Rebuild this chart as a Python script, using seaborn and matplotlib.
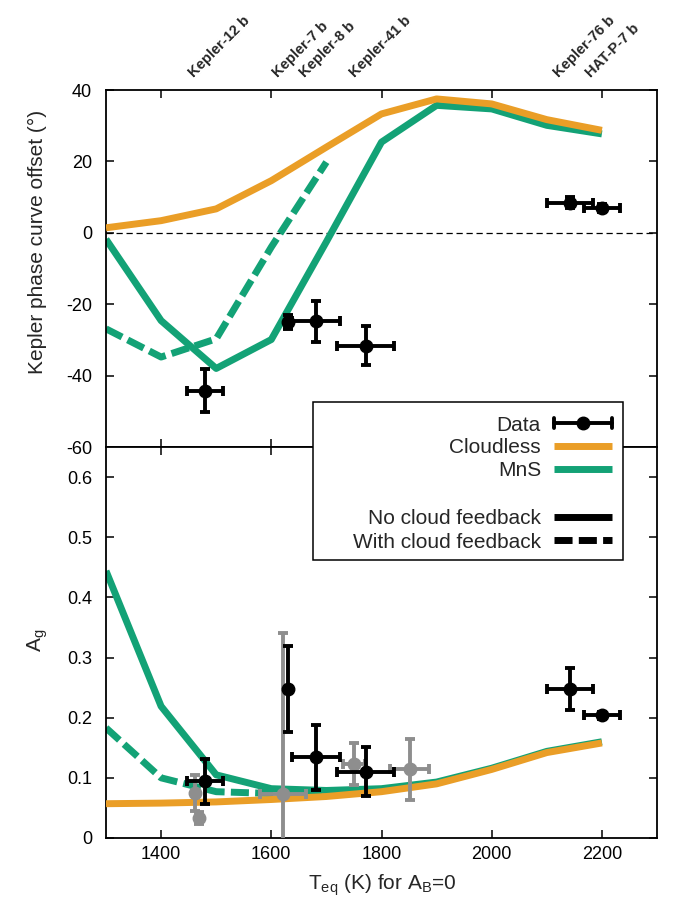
import numpy as np
import pandas as pd
import matplotlib
matplotlib.use("Agg")
import matplotlib.pyplot as plt
import seaborn as sns
from matplotlib.lines import Line2D
from matplotlib.patches import Rectangle

# ---------------- data ----------------
T_model = [1300, 1400, 1500, 1600, 1700, 1800, 1900, 2000, 2100, 2200]
offset_cloudless = [1.4, 3.4, 6.7, 14.6, 24.0, 33.3, 37.5, 36.1, 31.7, 28.7]
offset_mns = [-1.8, -24.6, -38.0, -29.9, -2.5, 25.4, 35.7, 34.7, 30.1, 27.7]
T_feedback = [1300, 1400, 1500, 1600, 1700]
offset_mns_feedback = [-26.9, -34.8, -29.7, -4.0, 19.8]

Ag_cloudless = [0.057, 0.058, 0.060, 0.064, 0.069, 0.077, 0.090, 0.114, 0.142, 0.158]
Ag_mns = [0.444, 0.219, 0.105, 0.082, 0.079, 0.082, 0.093, 0.116, 0.144, 0.160]
Ag_mns_feedback = [0.183, 0.100, 0.077, 0.074, 0.075]

planets = ["Kepler-12 b", "Kepler-7 b", "Kepler-8 b", "Kepler-41 b", "Kepler-76 b", "HAT-P-7 b"]
T_planet = [1480, 1631, 1681, 1771, 2142, 2200]
T_planet_err = [33, 5, 43, 52, 42, 32]
offset_obs = [-44.2, -25.0, -24.8, -31.6, 8.4, 7.0]
offset_obs_err = [6.0, 2.0, 5.8, 5.5, 1.5, 1.2]
Ag_obs = [0.094, 0.248, 0.134, 0.110, 0.247, 0.204]
Ag_obs_err = [0.038, 0.072, 0.054, 0.041, 0.035, 0.006]

T_grey = [1461, 1468, 1621, 1750, 1851]
T_grey_err = [0, 0, 42, 20, 35]
Ag_grey = [0.075, 0.033, 0.073, 0.123, 0.114]
Ag_grey_err = [0.030, 0.010, 0.267, 0.035, 0.050]

offset_yticks = [-60, -40, -20, 0, 20, 40]
Ag_yticks = [0, 0.1, 0.2, 0.3, 0.4, 0.5, 0.6]
Ag_yticklabels = ["0", "0.1", "0.2", "0.3", "0.4", "0.5", "0.6"]
T_ticks = [1400, 1600, 1800, 2000, 2200]

ORANGE = "#EA9E27"
GREEN = "#13A276"
GREY = "#8E8E8E"

# ---------------- style ----------------
sns.set_theme(style="ticks")
plt.rcParams["font.family"] = ["Liberation Sans", "DejaVu Sans"]
plt.rcParams["axes.unicode_minus"] = False
plt.rcParams["mathtext.fontset"] = "custom"
plt.rcParams["mathtext.rm"] = "Liberation Sans"
plt.rcParams["mathtext.it"] = "Liberation Sans:italic"

W_PX, H_PX = 673, 902
fig = plt.figure(figsize=(W_PX / 100, H_PX / 100), dpi=100)
L = 106 / W_PX
W = 551 / W_PX
ax1 = fig.add_axes([L, 1 - 447 / H_PX, W, 357 / H_PX])
ax2 = fig.add_axes([L, 1 - 838 / H_PX, W, 391 / H_PX])

DASH = (0, (2.6, 0.9))


def model(ax, x, y, color, dashed=False, z=2):
    kw = {"linestyle": DASH} if dashed else {}
    sns.lineplot(x=x, y=y, color=color, linewidth=5, ax=ax, zorder=z,
                 solid_capstyle="butt", dash_capstyle="butt", **kw)


def data(ax, x, y, xe, ye, color, z):
    ax.errorbar(x, y, xerr=xe, yerr=ye, fmt="o", color=color, ms=9,
                elinewidth=2.8, capsize=3.8, capthick=2.8, zorder=z)


# top panel
ax1.axhline(0, color="black", lw=0.9, linestyle=(0, (5, 3)), zorder=1)
model(ax1, T_model, offset_mns, GREEN, z=2)
model(ax1, T_feedback, offset_mns_feedback, GREEN, dashed=True, z=2.5)
model(ax1, T_model, offset_cloudless, ORANGE, z=3)
data(ax1, T_planet, offset_obs, T_planet_err, offset_obs_err, "black", 5)

# bottom panel
model(ax2, T_model, Ag_mns, GREEN, z=2)
model(ax2, T_feedback, Ag_mns_feedback, GREEN, dashed=True, z=2.5)
model(ax2, T_model, Ag_cloudless, ORANGE, z=3)
data(ax2, T_grey, Ag_grey, T_grey_err, Ag_grey_err, GREY, 4)
data(ax2, T_planet, Ag_obs, T_planet_err, Ag_obs_err, "black", 5)

for ax in (ax1, ax2):
    ax.set_xlim(1300, 2300)
    ax.set_xticks(T_ticks)
    ax.set_xlabel("")
    ax.set_ylabel("")
    ax.tick_params(direction="in", top=True, right=True, length=6, width=1.1,
                   labelsize=13, colors="black")
    ax.tick_params(axis="y", pad=10)
    ax.tick_params(axis="x", pad=6)
    for s in ax.spines.values():
        s.set_linewidth(1.3)
        s.set_color("black")
        s.set_visible(True)

ax1.set_ylim(-60, 40)
ax1.set_yticks(offset_yticks)
ax1.set_yticklabels([str(v) for v in offset_yticks])
ax1.tick_params(axis="x", labelbottom=False)

ax2.set_ylim(0, 0.65)
ax2.set_yticks(Ag_yticks)
ax2.set_yticklabels(Ag_yticklabels)
ax2.set_xticklabels([str(v) for v in T_ticks])

# planet names along the top
for name, t in zip(planets, T_planet):
    ax1.annotate(name, xy=(t, 1), xycoords=("data", "axes fraction"),
                 xytext=(-11, 12), textcoords="offset pixels", rotation=45,
                 ha="left", va="baseline", rotation_mode="anchor",
                 fontsize=10.5, fontweight="bold", annotation_clip=False)


# axis labels
def fx(x):
    return x / W_PX


def fy(y):
    return 1 - y / H_PX


fig.text(fx(37), fy(242), "Kepler phase curve offset (°)", rotation=90,
         ha="center", va="center", fontsize=15)
fig.text(fx(38), fy(640), r"A$_{\rm g}$", rotation=90, ha="center",
         va="center", fontsize=15)
fig.text(fx(382), fy(885), r"T$_{\rm eq}$ (K) for A$_{\rm B}$=0",
         ha="center", va="center", fontsize=15)

# legend (gnuplot style: right-aligned text, handle on the right)
box = Rectangle((fx(313), fy(560)), 310 / W_PX, 158 / H_PX,
                transform=fig.transFigure, facecolor="white",
                edgecolor="black", lw=1.1, zorder=10)
fig.add_artist(box)
entries = [
    ("Data", 423, "data"),
    ("Cloudless", 446, ORANGE),
    ("MnS", 469, GREEN),
    ("No cloud feedback", 517, "solid"),
    ("With cloud feedback", 540, "dashed"),
]
x0, x1 = 554, 612
for label, yy, kind in entries:
    fig.text(fx(541), fy(yy), label, ha="right", va="center_baseline",
             fontsize=15, zorder=11)
    if kind == "data":
        fig.add_artist(Line2D([fx(x0), fx(x1)], [fy(yy), fy(yy)], color="black",
                              lw=2.8, transform=fig.transFigure, zorder=11))
        for xc in (x0, x1):
            fig.add_artist(Line2D([fx(xc), fx(xc)], [fy(yy - 5), fy(yy + 5)],
                                  color="black", lw=2.8,
                                  transform=fig.transFigure, zorder=11))
        fig.add_artist(Line2D([fx((x0 + x1) / 2)], [fy(yy)], marker="o", ms=9,
                              color="black", transform=fig.transFigure, zorder=12))
    else:
        color = kind if kind not in ("solid", "dashed") else "black"
        ls = DASH if kind == "dashed" else "-"
        fig.add_artist(Line2D([fx(x0), fx(x1)], [fy(yy), fy(yy)], color=color,
                              lw=5, linestyle=ls, solid_capstyle="butt",
                              dash_capstyle="butt",
                              transform=fig.transFigure, zorder=11))

fig.savefig("out.png", dpi=100)
